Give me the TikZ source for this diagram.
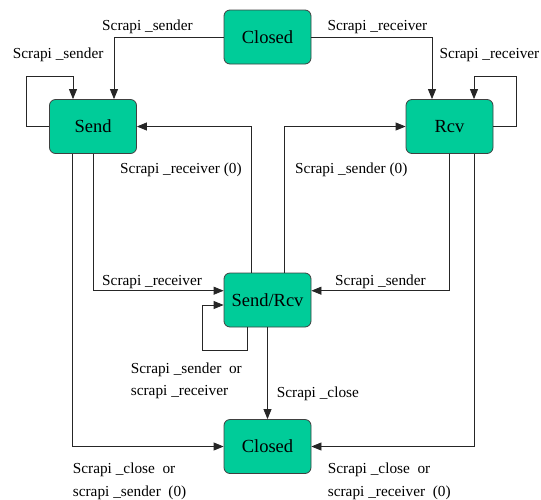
\documentclass[tikz,border=0pt]{standalone}
\usepackage{fontspec}
\setmainfont{Liberation Serif}
\usetikzlibrary{arrows.meta}
\definecolor{stategreen}{RGB}{0,204,153}
\definecolor{edgegray}{RGB}{64,64,64}
\tikzset{
  state/.style={draw=edgegray, line width=0.8pt, fill=stategreen,
    rounded corners=6pt, minimum width=87pt, minimum height=54pt,
    inner sep=0pt, font=\fontsize{18.5}{20}\selectfont},
  trans/.style={draw=black!85, line width=0.8pt,
    -{Triangle[length=10pt,width=8pt]}},
  lbl/.style={anchor=base west, inner sep=0pt,
    font=\fontsize{15.3}{22}\selectfont},
}
\begin{document}
\begin{tikzpicture}[x=1pt, y=-1pt]
\useasboundingbox (0,0) rectangle (541,499);

% states
\node[state] (closedtop) at (267.5,37) {Closed};
\node[state] (send)      at (93,126.5) {Send};
\node[state] (rcv)       at (449.5,126.5) {Rcv};
\node[state] (sendrcv)   at (267.5,300) {Send/Rcv};
\node[state] (closedbot) at (267.5,446.5) {Closed};

% transitions out of the initial Closed state
\draw[trans] (closedtop.west) -| ([xshift=21pt]send.north);
\draw[trans] (closedtop.east) -| ([xshift=-17.5pt]rcv.north);

% self loops
\draw[trans] (send.west) -- ++(-22.5,0)
  |- ([xshift=-20pt,yshift=23pt]send.north) -- ([xshift=-20pt]send.north);
\draw[trans] (rcv.east) -- ++(22.7,0)
  |- ([xshift=24.5pt,yshift=23pt]rcv.north) -- ([xshift=24.5pt]rcv.north);
\draw[trans] ([xshift=-20pt]sendrcv.south) -- ++(0,23)
  -| ([xshift=-21.3pt,yshift=-5pt]sendrcv.west) -- ([yshift=-5pt]sendrcv.west);

% Send/Rcv back to Send or Rcv
\draw[trans] ([xshift=-16.5pt]sendrcv.north) |- (send.east);
\draw[trans] ([xshift=16.5pt]sendrcv.north) |- (rcv.west);

% Send or Rcv into Send/Rcv
\draw[trans] (send.south) |- ([yshift=9.3pt]sendrcv.west);
\draw[trans] (rcv.south) |- ([yshift=9.3pt]sendrcv.east);

% into the final Closed state
\draw[trans] (sendrcv.south) -- (closedbot.north);
\draw[trans] ([xshift=-20.3pt]send.south) |- (closedbot.west);
\draw[trans] ([xshift=24.5pt]rcv.south) |- (closedbot.east);

% transition labels
\node[lbl] (l1)  at (102,30)    {Scrapi \_sender};
\node[lbl] (l2)  at (12.7,58)   {Scrapi \_sender};
\node[lbl] (l3)  at (327.3,30)  {Scrapi \_receiver};
\node[lbl] (l4)  at (439.3,58)  {Scrapi \_receiver};
\node[lbl] (l5)  at (120,173)   {Scrapi \_receiver (0)};
\node[lbl] (l6)  at (295,173)   {Scrapi \_sender (0)};
\node[lbl] (l7)  at (102,285)   {Scrapi \_receiver};
\node[lbl] (l8)  at (335,285)   {Scrapi \_sender};
\node[lbl] (l9a) at (130.7,373) {Scrapi \_sender\ \ or};
\node[lbl] (l9b) at (130.7,395) {scrapi \_receiver};
\node[lbl] (l10) at (276.7,397) {Scrapi \_close};
\node[lbl] (l11a) at (72.7,473.3) {Scrapi \_close\ \ or};
\node[lbl] (l11b) at (72.7,496)   {scrapi \_sender\ \ (0)};
\node[lbl] (l12a) at (327.7,473.3) {Scrapi \_close\ \ or};
\node[lbl] (l12b) at (327.7,496)   {scrapi \_receiver\ \ (0)};
\end{tikzpicture}
\end{document}
